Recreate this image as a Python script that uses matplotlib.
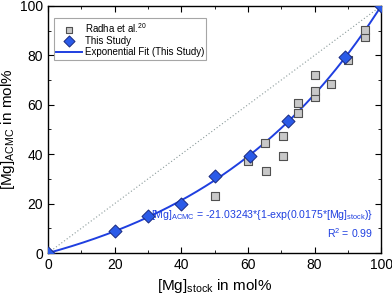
import numpy as np
import matplotlib
matplotlib.use('Agg')
import matplotlib.pyplot as plt
from matplotlib.ticker import MultipleLocator

plt.rcParams['font.family'] = ['Liberation Sans', 'DejaVu Sans']

# Radha et al. literature data
radha_x = [50, 65.5, 60, 65, 70.5, 70.5, 75, 75, 80, 80, 80, 85, 90, 95, 95]
radha_y = [23, 33.3, 37.2, 44.4, 39.4, 47.4, 56.6, 60.9, 63, 65.6, 72.1, 68.3, 78.1, 87.6, 90.3]

# This study
study_x = [0, 20, 30, 40, 50, 60.5, 72, 89, 100]
study_y = [0, 9, 15, 20, 31, 39.4, 53.3, 79.5, 100]

# exponential fit constants (as printed on the chart)
fit_a = -21.03243
fit_b = 0.0175

blue = '#1f3fe0'

fig = plt.figure(figsize=(3.92, 2.97), dpi=100)
ax = fig.add_axes([0.1224, 0.148, 0.85, 0.832])

ax.plot([0, 100], [0, 100], ls=(0, (1, 2)), color='#8a9a9a', lw=0.8, zorder=1)

xf = np.linspace(0, 100, 200)
ax.plot(xf, fit_a * (1 - np.exp(fit_b * xf)), color=blue, lw=1.4, zorder=2,
        label='Exponential Fit (This Study)')
ax.scatter(radha_x, radha_y, marker='s', s=30, facecolor='#c8c8c8', edgecolor='#505050',
           lw=0.8, zorder=3, label='Radha et al.$^{\\mathregular{20}}$')
ax.scatter(study_x, study_y, marker='D', s=44, facecolor='#2a5ae8', edgecolor='#1a2a80',
           lw=0.7, zorder=4, label='This Study')

ax.set_xlim(0, 100)
ax.set_ylim(0, 100)
ax.xaxis.set_major_locator(MultipleLocator(20))
ax.xaxis.set_minor_locator(MultipleLocator(10))
ax.yaxis.set_major_locator(MultipleLocator(20))
ax.yaxis.set_minor_locator(MultipleLocator(10))
ax.tick_params(which='both', direction='in', top=True, right=True, labelsize=10)
ax.tick_params(which='major', length=4)
ax.tick_params(which='minor', length=2.5)
for s in ax.spines.values():
    s.set_linewidth(1.0)

ax.set_xlabel('[Mg]$_{\\mathregular{stock}}$ in mol%', fontsize=11, labelpad=4)
ax.set_ylabel('[Mg]$_{\\mathregular{ACMC}}$ in mol%', fontsize=11, labelpad=2)

h, l = ax.get_legend_handles_labels()
order = [1, 2, 0]
leg = ax.legend([h[i] for i in order], [l[i] for i in order], loc='upper left',
                bbox_to_anchor=(0.018, 0.95), borderaxespad=0, fontsize=7, frameon=True,
                fancybox=False, edgecolor='#909090', handlelength=2.6, handletextpad=0.3,
                borderpad=0.25, labelspacing=0.15, markerscale=0.85)
leg.get_frame().set_linewidth(0.8)

ax.text(0.975, 0.155, '[Mg]$_{\\mathregular{ACMC}}$ = -21.03243*{1-exp(0.0175*[Mg]$_{\\mathregular{stock}}$)}',
        transform=ax.transAxes, ha='right', va='center', fontsize=7.6, color=blue)
ax.text(0.975, 0.08, 'R$^{\\mathregular{2}}$ = 0.99', transform=ax.transAxes,
        ha='right', va='center', fontsize=7.6, color=blue)

fig.savefig('out.png', dpi=100)
